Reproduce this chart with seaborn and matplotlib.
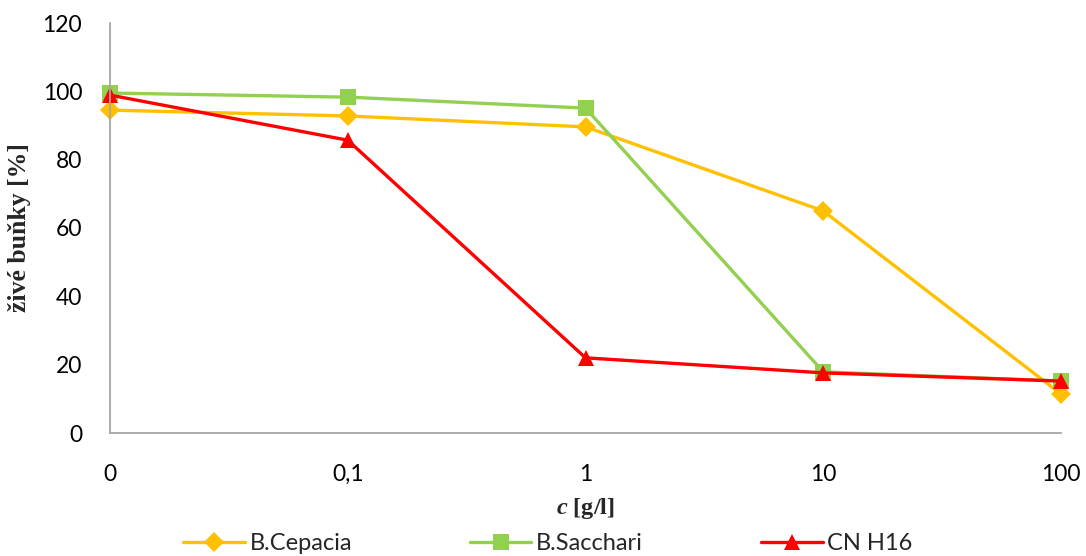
import matplotlib
matplotlib.use("Agg")
import matplotlib.pyplot as plt
import seaborn as sns
import pandas as pd

categories = ["0", "0,1", "1", "10", "100"]
b_cepacia = [94.5, 92.8, 89.6, 65.0, 11.4]
b_sacchari = [99.5, 98.3, 95.1, 17.9, 15.2]
cn_h16 = [98.9, 85.7, 22.0, 17.6, 15.2]
series_names = ["B.Cepacia", "B.Sacchari", "CN H16"]
y_ticks = [0, 20, 40, 60, 80, 100, 120]

sns.set_style("white")
plt.rcParams["font.family"] = ["Lato", "DejaVu Sans"]
plt.rcParams["mathtext.fontset"] = "custom"
plt.rcParams["mathtext.it"] = "Liberation Serif:italic:bold"
plt.rcParams["mathtext.rm"] = "Liberation Serif:bold"

fig = plt.figure(figsize=(10.86, 5.56), dpi=100)
ax = fig.add_axes([110/1086, 1-433/556, (1061-110)/1086, (433-23)/556])

colors = ["#FFC000", "#92D050", "#FF0000"]
markers = ["D", "s", "^"]
msizes = [10, 12, 12]
xs = list(range(len(categories)))
for name, vals, c, m, ms in zip(series_names, [b_cepacia, b_sacchari, cn_h16], colors, markers, msizes):
    df = pd.DataFrame({"x": xs, "y": vals})
    sns.lineplot(data=df, x="x", y="y", ax=ax, color=c, marker=m, markersize=ms,
                 markeredgewidth=0, linewidth=2.4, label=name, legend=False)

ax.set_xlim(0, len(categories) - 1)
ax.set_ylim(0, 120)
ax.set_xticks(xs)
ax.set_xticklabels(categories)
ax.set_yticks(y_ticks)
ax.tick_params(axis="both", length=0, labelsize=16.5, colors="#000000")
ax.tick_params(axis="y", pad=20)
ax.tick_params(axis="x", pad=22)
for s in ["top", "right"]:
    ax.spines[s].set_visible(False)
for s in ["left", "bottom"]:
    ax.spines[s].set_color("#A6A6A6")
    ax.spines[s].set_linewidth(1.3)
for l in ax.lines:
    l.set_clip_on(False)

ax.set_xlabel(r"$c$ [g/l]", fontsize=17.5, fontfamily="Liberation Serif", fontweight="bold", labelpad=8)
ax.set_ylabel("živé buňky [%]", fontsize=18.5, fontfamily="Liberation Serif", fontweight="bold", labelpad=8)

handles, labels = ax.get_legend_handles_labels()
fig.legend(handles, labels, loc="center", bbox_to_anchor=(548/1086, 1-544/556), ncol=3,
           frameon=False, fontsize=17, handlelength=2.6, handletextpad=0.2, columnspacing=5.0)

fig.savefig("out.png", dpi=100)
